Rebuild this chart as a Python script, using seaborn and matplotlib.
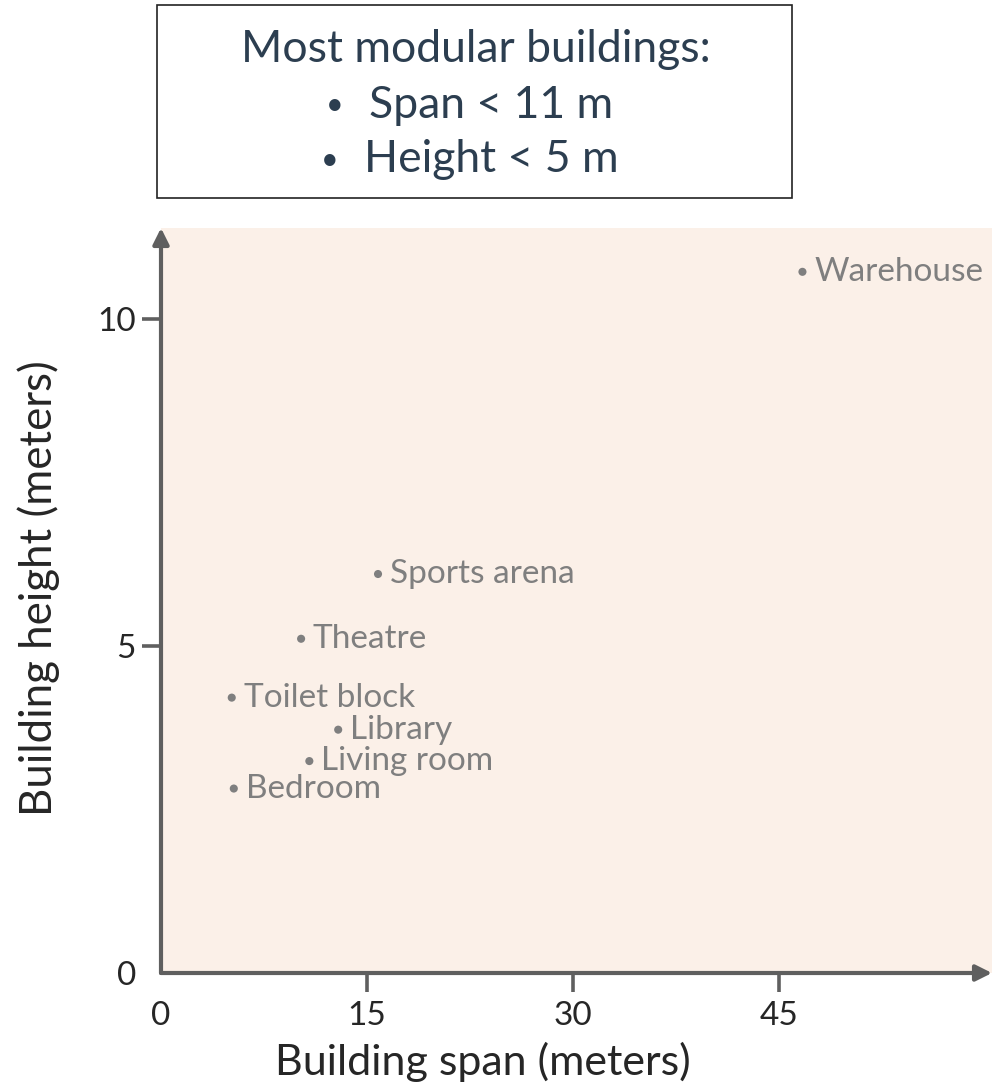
import matplotlib
matplotlib.use("Agg")
import matplotlib.pyplot as plt
from matplotlib.patches import Rectangle
import pandas as pd
import seaborn as sns

# data
buildings = ["Warehouse", "Sports arena", "Theatre", "Toilet block", "Library", "Living room", "Bedroom"]
span_m = [46.7, 15.8, 10.2, 5.15, 12.9, 10.8, 5.3]
height_m = [10.72, 6.10, 5.11, 4.21, 3.72, 3.24, 2.82]

x_ticks = [0, 15, 30, 45]
y_ticks = [0, 5, 10]

note_title = "Most modular buildings:"
note_items = ["Span < 11 m", "Height < 5 m"]

sns.set_theme(style="white")
plt.rcParams["font.family"] = ["Lato", "DejaVu Sans"]

AXIS_COL = "#5f5f5f"
LABEL_COL = "#7f7f7f"
NOTE_COL = "#2c3e50"

df = pd.DataFrame({"Building": buildings, "Span": span_m, "Height": height_m})

fig = plt.figure(figsize=(9.92, 10.9), dpi=100)
ax = fig.add_axes([161 / 992, 1 - 973 / 1090, 1 - 161 / 992, (973 - 228) / 1090])
ax.set_facecolor("#fbf0e8")

sns.scatterplot(data=df, x="Span", y="Height", ax=ax, color=LABEL_COL,
                s=34, edgecolor="none", zorder=3)
for _, r in df.iterrows():
    ax.annotate(r["Building"], (r["Span"], r["Height"]), xytext=(8.5, 0),
                textcoords="offset points", va="center", ha="left",
                fontsize=24, color=LABEL_COL)

ax.set_xlim(0.27, 60.5)
ax.set_ylim(0, 11.39)
ax.set_xticks(x_ticks)
ax.set_yticks(y_ticks)
ax.tick_params(axis="x", length=14, width=2.6, color=AXIS_COL, pad=6, labelsize=24)
ax.tick_params(axis="y", length=14, width=2.6, color=AXIS_COL, pad=4, labelsize=24)
ax.tick_params(bottom=True, left=True)
ax.xaxis.get_major_ticks()[0].tick1line.set_visible(False)
ax.yaxis.get_major_ticks()[0].tick1line.set_visible(False)

for sp in ax.spines.values():
    sp.set_visible(False)

arrow = dict(arrowstyle="-|>,head_length=0.8,head_width=0.4", color=AXIS_COL, lw=3,
             shrinkA=0, shrinkB=0)
ax.annotate("", xy=(1.0, 0), xytext=(0, 0), xycoords="axes fraction",
            textcoords="axes fraction", arrowprops=arrow, annotation_clip=False)
ax.annotate("", xy=(0, 1.0), xytext=(0, 0), xycoords="axes fraction",
            textcoords="axes fraction", arrowprops=arrow, annotation_clip=False)

ax.set_xlabel("Building span (meters)", fontsize=31, labelpad=8)
ax.set_ylabel("Building height (meters)", fontsize=31.5, labelpad=27)
ax.xaxis.label.set_x(0.3875)
ax.yaxis.label.set_y(0.517)

# note box at the top
fig.add_artist(Rectangle((157 / 992, 1 - 198 / 1090), (792 - 157) / 992, (198 - 5) / 1090,
                         transform=fig.transFigure, fill=False, edgecolor="#222222", lw=1.2))
fig.text(476 / 992, 1 - 50 / 1090, note_title, ha="center", va="center",
         fontsize=32, color=NOTE_COL)
for i, item in enumerate(note_items):
    y = 1 - (105 + 55 * i) / 1090
    fig.text((335 - 5 * i) / 992, y, "\u2022", ha="center", va="center", fontsize=22, color=NOTE_COL)
    fig.text((369 - 5 * i) / 992, y, item, ha="left", va="center", fontsize=32, color=NOTE_COL)

fig.savefig("out.png", dpi=100)
